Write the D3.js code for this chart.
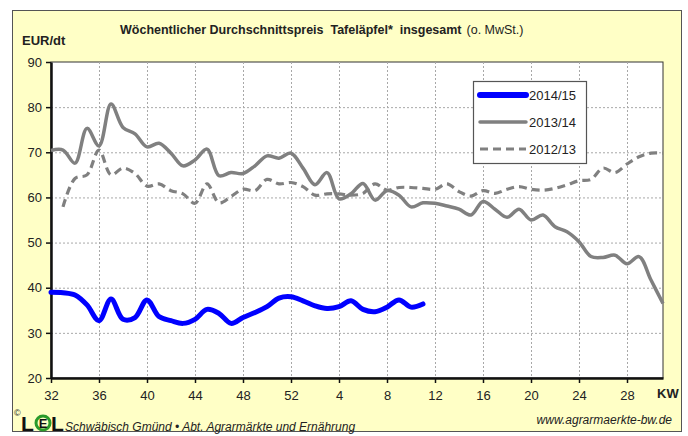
<!DOCTYPE html>
<html>
<head>
<meta charset="utf-8">
<script src="https://cdn.jsdelivr.net/npm/d3@7"></script>
<style>
  body { margin: 0; background: #fff; }
  svg text { font-family: "Liberation Sans", Arial, sans-serif; white-space: pre; }
</style>
</head>
<body>
<div id="chart"></div>
<script>
// calendar weeks, season runs from KW 32 to KW 31
var weeks = [32, 33, 34, 35, 36, 37, 38, 39, 40, 41, 42, 43, 44, 45, 46, 47, 48, 49, 50, 51, 52,
             1, 2, 3, 4, 5, 6, 7, 8, 9, 10, 11, 12, 13, 14, 15, 16, 17, 18, 19, 20,
             21, 22, 23, 24, 25, 26, 27, 28, 29, 30, 31];

var s1415 = [39.0, 38.9, 38.4, 36.2, 32.7, 37.5, 33.0, 33.4, 37.3, 33.6, 32.7, 32.1, 33.0, 35.2, 34.3, 32.1,
             33.4, 34.5, 35.8, 37.7, 38.0, 37.1, 36.0, 35.4, 35.8, 37.1, 35.2, 34.7, 35.7, 37.3, 35.7, 36.4];

var s1314 = [70.4, 70.5, 67.6, 75.3, 71.4, 80.7, 75.5, 74.1, 71.2, 72.0, 69.8, 67.0, 68.3, 70.7, 64.8, 65.5,
             65.3, 67.0, 69.2, 68.7, 69.8, 66.5, 62.8, 65.5, 59.7, 60.8, 63.1, 59.4, 61.5, 60.5, 57.9, 58.8,
             58.7, 58.1, 57.4, 56.1, 59.1, 57.4, 55.6, 57.4, 55.0, 56.1, 53.5, 52.4, 50.2, 46.9, 46.7, 47.2,
             45.3, 46.9, 41.7, 36.5];

var s1213 = [null, 57.9, 64.2, 65.0, 70.5, 65.0, 66.5, 65.3, 62.5, 63.0, 61.5, 60.8, 58.7, 63.0, 58.8, 60.2,
             61.8, 61.5, 64.0, 63.0, 63.3, 62.4, 60.5, 60.8, 60.8, 60.5, 60.9, 63.0, 61.6, 62.2, 62.2, 62.0,
             61.8, 63.0, 61.3, 60.3, 61.5, 60.9, 61.8, 62.4, 61.8, 61.6, 62.0, 62.8, 63.7, 64.0, 66.5, 65.5,
             67.4, 69.0, 69.8, 69.8];

var yTicks = [20, 30, 40, 50, 60, 70, 80, 90];
var seriesNames = ["2014/15", "2013/14", "2012/13"];

var width = 688, height = 436;
var svg = d3.select("#chart").append("svg")
    .attr("width", width).attr("height", height);

// yellow frame
svg.append("rect")
    .attr("x", 12.5).attr("y", 10.5).attr("width", 669).attr("height", 421)
    .attr("fill", "#ffffc6").attr("stroke", "#555").attr("stroke-width", 1);

var pLeft = 51, pRight = 663, pTop = 62, pBottom = 378;
var x = d3.scaleLinear().domain([0, weeks.length - 1]).range([pLeft, pRight]);
var y = d3.scaleLinear().domain([20, 90]).range([pBottom, pTop]);

svg.append("rect")
    .attr("x", pLeft).attr("y", pTop).attr("width", pRight - pLeft).attr("height", pBottom - pTop)
    .attr("fill", "#fff").attr("stroke", "#333").attr("stroke-width", 1);

var xTickIdx = d3.range(0, weeks.length, 4);

// grid
svg.append("g").selectAll("line").data(yTicks.slice(1, -1)).enter().append("line")
    .attr("x1", pLeft).attr("x2", pRight)
    .attr("y1", function (d) { return y(d) + 0.5; })
    .attr("y2", function (d) { return y(d) + 0.5; })
    .attr("stroke", "#a8a8a8").attr("stroke-dasharray", "2,2");
svg.append("g").selectAll("line").data(xTickIdx.slice(1)).enter().append("line")
    .attr("x1", function (d) { return x(d) + 0.5; })
    .attr("x2", function (d) { return x(d) + 0.5; })
    .attr("y1", pTop).attr("y2", pBottom)
    .attr("stroke", "#a8a8a8").attr("stroke-dasharray", "2,2");

// axes
var yAxis = svg.append("g").attr("transform", "translate(" + pLeft + ",0)")
    .call(d3.axisLeft(y).tickValues(yTicks).tickSize(5).tickSizeOuter(0).tickPadding(5));
var xAxis = svg.append("g").attr("transform", "translate(0," + pBottom + ")")
    .call(d3.axisBottom(x).tickValues(xTickIdx).tickSize(5).tickSizeOuter(0).tickPadding(8)
        .tickFormat(function (i) { return weeks[i]; }));
[yAxis, xAxis].forEach(function (g) {
    g.select(".domain").attr("stroke", "#111").attr("stroke-width", 2.5);
    g.selectAll(".tick line").attr("stroke", "#111").attr("stroke-width", 1.5);
    g.selectAll("text").attr("font-size", 13).attr("fill", "#222")
        .attr("font-family", "Liberation Sans, Arial, sans-serif");
});
yAxis.selectAll(".tick text").attr("x", -9);

// lines
var line = d3.line()
    .defined(function (d) { return d != null; })
    .x(function (d, i) { return x(i); })
    .y(function (d) { return y(d); })
    .curve(d3.curveCatmullRom.alpha(0.5));

svg.append("path").datum(s1213).attr("d", line)
    .attr("fill", "none").attr("stroke", "#808080").attr("stroke-width", 3.2)
    .attr("stroke-dasharray", "8,5");
svg.append("path").datum(s1314).attr("d", line)
    .attr("fill", "none").attr("stroke", "#808080").attr("stroke-width", 3.5)
    .attr("stroke-linejoin", "round");
svg.append("path").datum(s1415).attr("d", line)
    .attr("fill", "none").attr("stroke", "#0000ff").attr("stroke-width", 5)
    .attr("stroke-linejoin", "round").attr("stroke-linecap", "round");

// legend
var legend = svg.append("g");
legend.append("rect")
    .attr("x", 473.5).attr("y", 81.5).attr("width", 113).attr("height", 82)
    .attr("fill", "#fff").attr("stroke", "#555").attr("stroke-width", 1.2);
var legendStyles = [
    { color: "#0000ff", width: 6, dash: null, cap: "round" },
    { color: "#808080", width: 3.5, dash: null, cap: "round" },
    { color: "#808080", width: 3.2, dash: "8,5", cap: "butt" }
];
seriesNames.forEach(function (name, k) {
    var ly = 95 + k * 27;
    var st = legendStyles[k];
    legend.append("line")
        .attr("x1", 480).attr("x2", 526).attr("y1", ly).attr("y2", ly)
        .attr("stroke", st.color).attr("stroke-width", st.width)
        .attr("stroke-dasharray", st.dash).attr("stroke-linecap", st.cap);
    legend.append("text").attr("x", 529).attr("y", ly + 5)
        .attr("font-size", 13).attr("fill", "#222").text(name);
});

// titles
svg.append("text").attr("x", 22).attr("y", 45)
    .attr("font-size", 13).attr("font-weight", "bold").attr("fill", "#222").text("EUR/dt");
var title = svg.append("text").attr("x", 120).attr("y", 34).attr("font-size", 12.5).attr("fill", "#222");
title.append("tspan").attr("font-weight", "bold")
    .text("Wöchentlicher Durchschnittspreis  Tafeläpfel*  insgesamt");
title.append("tspan").attr("dx", 5).text("(o. MwSt.)");

svg.append("text").attr("x", 657).attr("y", 398)
    .attr("font-size", 13).attr("font-weight", "bold").attr("fill", "#222").text("KW");

// footer
svg.append("text").attr("x", 14).attr("y", 416).attr("font-size", 9).attr("fill", "#222").text("©");
svg.append("text").attr("x", 21).attr("y", 431).attr("font-size", 21)
    .attr("font-weight", "bold").attr("fill", "#111").text("L");
svg.append("circle").attr("cx", 43).attr("cy", 423).attr("r", 7)
    .attr("fill", "none").attr("stroke", "#2a9a2a").attr("stroke-width", 3);
svg.append("text").attr("x", 43).attr("y", 428).attr("text-anchor", "middle").attr("font-size", 13)
    .attr("font-weight", "bold").attr("fill", "#111").text("E");
svg.append("text").attr("x", 51).attr("y", 431).attr("font-size", 21)
    .attr("font-weight", "bold").attr("fill", "#111").text("L");
svg.append("text").attr("x", 65).attr("y", 431).attr("font-size", 12)
    .attr("font-style", "italic").attr("fill", "#222")
    .text("Schwäbisch Gmünd • Abt. Agrarmärkte und Ernährung");
svg.append("text").attr("x", 672).attr("y", 424).attr("text-anchor", "end").attr("font-size", 12)
    .attr("font-style", "italic").attr("fill", "#222").text("www.agrarmaerkte-bw.de");
</script>
</body>
</html>
